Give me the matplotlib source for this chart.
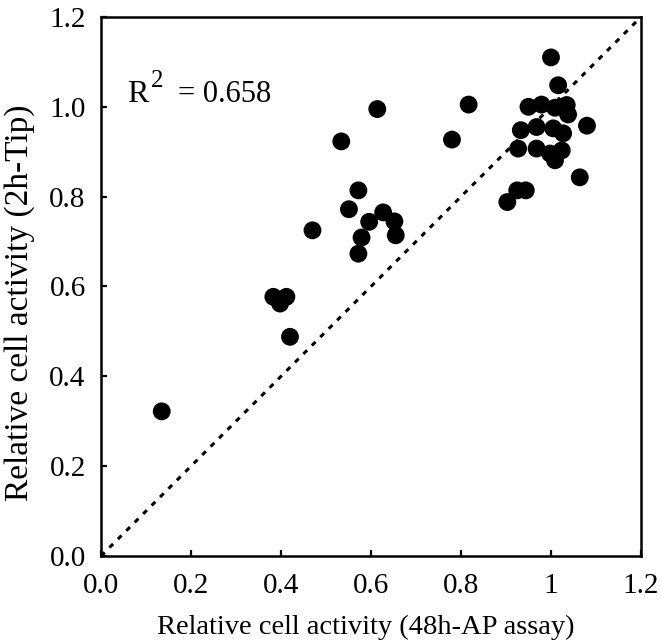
import numpy as np
import matplotlib
matplotlib.use('Agg')
import matplotlib.pyplot as plt

plt.rcParams['font.family'] = ['Liberation Serif', 'DejaVu Serif']

# relative cell activity: 48h-AP assay (x) vs 2h-Tip (y)
ap_48h = [0.135, 0.383, 0.412, 0.398, 0.420, 0.470, 0.534, 0.614,
          0.572, 0.551, 0.596, 0.627, 0.652, 0.655, 0.579, 0.572,
          0.780, 0.817, 1.000, 1.016, 1.080, 1.064, 0.903, 0.925, 0.944,
          0.950, 0.979, 1.009, 1.035, 1.038,
          0.933, 0.968, 1.005, 1.027,
          0.927, 0.968, 0.998, 1.024, 1.009]
tip_2h = [0.322, 0.577, 0.577, 0.562, 0.488, 0.725, 0.923, 0.995,
          0.814, 0.772, 0.744, 0.765, 0.745, 0.714, 0.709, 0.673,
          0.927, 1.005, 1.110, 1.048, 0.958, 0.843, 0.788, 0.814, 0.814,
          1.000, 1.005, 0.998, 1.004, 0.983,
          0.948, 0.955, 0.952, 0.941,
          0.907, 0.907, 0.896, 0.903, 0.881]
r2_text = '0.658'
ticks = [0.0, 0.2, 0.4, 0.6, 0.8, 1.0, 1.2]
xtick_labels = ['0.0', '0.2', '0.4', '0.6', '0.8', '1', '1.2']
ytick_labels = ['0.0', '0.2', '0.4', '0.6', '0.8', '1.0', '1.2']

fig = plt.figure(figsize=(6.61, 6.43), dpi=100)
ax = fig.add_axes([0.1528, 0.1353, 0.8169, 0.8383])

# line of identity
ax.plot([0, 1.2], [0, 1.2], color='black', lw=2.2, dashes=(1.7, 2.2))
ax.scatter(ap_48h, tip_2h, s=165, color='black', edgecolors='none', zorder=3)

ax.set_xlim(0, 1.2)
ax.set_ylim(0, 1.2)
ax.set_xticks(ticks)
ax.set_xticklabels(xtick_labels)
ax.set_yticks(ticks)
ax.set_yticklabels(ytick_labels)
ax.tick_params(direction='in', length=4, width=1.6, labelsize=21)
ax.tick_params(axis='x', pad=12)
ax.tick_params(axis='y', pad=11)
for s in ax.spines.values():
    s.set_linewidth(1.8)

ax.set_xlabel('Relative cell activity (48h-AP assay)', fontsize=20.5)
ax.xaxis.set_label_coords(0.49, -0.132)
ax.xaxis.label.set_verticalalignment('center')
ax.set_ylabel('Relative cell activity (2h-Tip)', fontsize=24)
ax.yaxis.set_label_coords(-0.15, 0.47)
ax.yaxis.label.set_verticalalignment('center')

ax.text(0.048, 0.843, 'R', transform=ax.transAxes, fontsize=23, va='baseline')
ax.text(0.093, 0.870, '2', transform=ax.transAxes, fontsize=18, va='baseline')
ax.text(0.143, 0.843, '= ' + r2_text, transform=ax.transAxes, fontsize=22,
        va='baseline')

fig.savefig('out.png', dpi=100)
